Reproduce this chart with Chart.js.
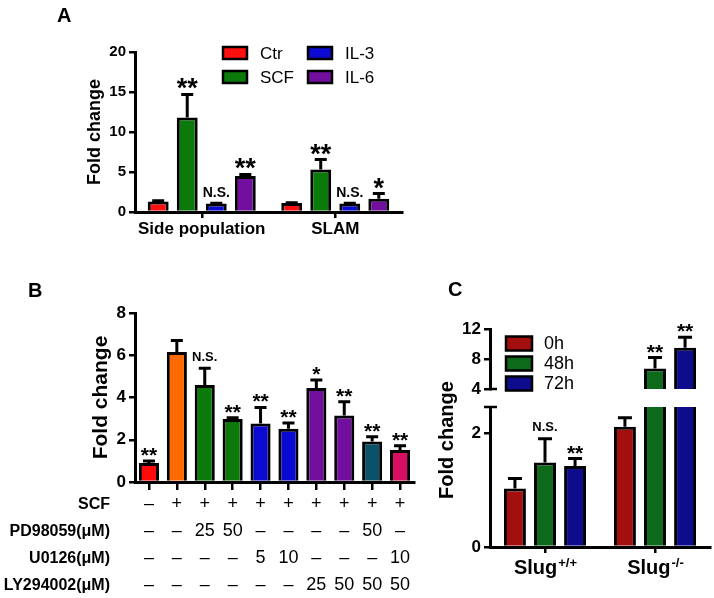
<!DOCTYPE html>
<html>
<head>
<meta charset="utf-8">
<script src="https://cdn.jsdelivr.net/npm/chart.js@4.4.0/dist/chart.umd.min.js"></script>
<style>
  html, body { margin: 0; padding: 0; background: #fff; }
  #page { position: relative; width: 714px; height: 598px; overflow: hidden; }
  #page canvas { position: absolute; left: 0; top: 0; }
</style>
</head>
<body>
<div id="page">
  <canvas id="chartA" width="714" height="598"></canvas>
  <canvas id="chartB" width="714" height="598"></canvas>
  <canvas id="chartC1" width="714" height="598"></canvas>
  <canvas id="chartC2" width="714" height="598"></canvas>
</div>
<script>
var FONT = "'Liberation Sans', Arial, Helvetica, sans-serif";

//! panel A - side population / SLAM
var groupsA = ['Side population', 'SLAM'];
var ctrA = [1.3, 1.13];
var ctrErrA = [0.1, 0.04];
var scfA = [11.8, 5.3];
var scfErrA = [2.9, 1.25];
var il3A = [1.05, 1.05];
var il3ErrA = [0.05, 0.03];
var il6A = [4.5, 1.66];
var il6ErrA = [0.2, 0.64];
var ctrSigA = ['', ''];
var scfSigA = ['**', '**'];
var il3SigA = ['N.S.', 'N.S.'];
var il6SigA = ['**', '*'];

//! panel B - inhibitors
var rowNamesB = ['SCF', 'PD98059(\u03bcM)', 'U0126(\u03bcM)', 'LY294002(\u03bcM)'];
var scfRowB = ['\u2013', '+', '+', '+', '+', '+', '+', '+', '+', '+'];
var pdRowB = ['\u2013', '\u2013', '25', '50', '\u2013', '\u2013', '\u2013', '\u2013', '50', '\u2013'];
var u0RowB = ['\u2013', '\u2013', '\u2013', '\u2013', '5', '10', '\u2013', '\u2013', '\u2013', '10'];
var lyRowB = ['\u2013', '\u2013', '\u2013', '\u2013', '\u2013', '\u2013', '25', '50', '50', '50'];
var foldB = [0.9, 6.15, 4.59, 2.98, 2.77, 2.52, 4.45, 3.15, 1.92, 1.52];
var errB = [0.1, 0.55, 0.8, 0.06, 0.76, 0.27, 0.38, 0.65, 0.22, 0.2];
var sigB = ['**', '', 'N.S.', '**', '**', '**', '*', '**', '**', '**'];
var colorsB = ['#ff0a0a', '#ff6a00', '#0b7a0b', '#0b7a0b', '#0a0ad2', '#0a0ad2',
               '#720f9e', '#720f9e', '#0b5268', '#d80e62'];

//! panel C - Slug genotypes
var genotypeC = ['Slug', 'Slug'];
var genotypeSupC = ['+/+', '-/-'];
var h0C = [1.03, 2.12];
var h0ErrC = [0.18, 0.16];
var h48C = [1.49, 6.75];
var h48ErrC = [0.42, 1.45];
var h72C = [1.43, 9.5];
var h72ErrC = [0.13, 1.4];
var h0SigC = ['', ''];
var h48SigC = ['N.S.', '**'];
var h72SigC = ['**', '**'];

Chart.defaults.font.family = FONT;
Chart.defaults.color = '#000';

function xAxis(size, tickLen, height, lineHeight, pad) {
    return {
        offset: true,
        grid: { display: true, drawOnChartArea: false, drawTicks: true, tickLength: tickLen, offset: false, color: '#000', lineWidth: 2.5 },
        border: { display: true, color: '#000', width: 3 },
        ticks: { color: '#000', font: { size: size, weight: 'bold', lineHeight: lineHeight }, padding: pad, maxRotation: 0, minRotation: 0, autoSkip: false },
        afterFit: function (s) { s.height = height; }
    };
}

function yAxis(min, max, step, size, width, title, titleSize) {
    return {
        min: min,
        max: max,
        grid: { display: true, drawOnChartArea: false, drawTicks: true, tickLength: 6, color: '#000', lineWidth: 2.5 },
        border: { display: true, color: '#000', width: 3 },
        ticks: { stepSize: step, includeBounds: false, color: '#000', font: { size: size, weight: 'bold' }, padding: 3 },
        title: { display: !!title, text: title, color: '#000', font: { size: titleSize, weight: 'bold' } },
        afterFit: function (s) { s.width = width; }
    };
}

//! error bars + significance marks
var errorBars = {
    id: 'errorBars',
    afterDatasetsDraw: function (chart, args, opts) {
        var ctx = chart.ctx;
        var area = chart.chartArea;
        var ys = chart.scales.y;
        ctx.save();
        ctx.beginPath();
        ctx.rect(area.left, area.top - 2, area.right - area.left, area.bottom - area.top + 2);
        ctx.clip();
        ctx.strokeStyle = '#000';
        ctx.lineWidth = opts.lineWidth;
        chart.data.datasets.forEach(function (ds, di) {
            chart.getDatasetMeta(di).data.forEach(function (bar, i) {
                var top = ys.getPixelForValue(ds.data[i] + ds.errors[i]);
                ctx.beginPath();
                ctx.moveTo(bar.x, bar.y);
                ctx.lineTo(bar.x, top);
                ctx.moveTo(bar.x - opts.cap, top);
                ctx.lineTo(bar.x + opts.cap, top);
                ctx.stroke();
            });
        });
        ctx.restore();

        ctx.save();
        ctx.fillStyle = '#000';
        ctx.textAlign = 'center';
        ctx.textBaseline = 'alphabetic';
        chart.data.datasets.forEach(function (ds, di) {
            chart.getDatasetMeta(di).data.forEach(function (bar, i) {
                var s = ds.sig[i];
                var v = ds.data[i] + ds.errors[i];
                if (!s || v < ys.min || v > ys.max) return;
                var star = s.indexOf('*') >= 0;
                ctx.font = 'bold ' + (star ? opts.starSize : opts.nsSize) + 'px ' + FONT;
                var m = ctx.measureText(s);
                var top = ys.getPixelForValue(v);
                ctx.fillText(s, bar.x, top - (star ? opts.starGap : opts.nsGap) - m.actualBoundingBoxDescent);
            });
        });
        ctx.restore();
    }
};

//! legend with outlined boxes
var boxLegend = {
    id: 'boxLegend',
    afterDraw: function (chart, args, opts) {
        if (!opts.items) return;
        var ctx = chart.ctx;
        ctx.save();
        ctx.font = opts.size + 'px ' + FONT;
        ctx.textBaseline = 'middle';
        ctx.textAlign = 'left';
        opts.items.forEach(function (it) {
            var ds = chart.data.datasets[it.index];
            var y0 = it.y - opts.boxH / 2;
            ctx.fillStyle = ds.backgroundColor;
            ctx.fillRect(it.x, y0, opts.boxW, opts.boxH);
            ctx.lineWidth = 2.5;
            ctx.strokeStyle = '#000';
            ctx.strokeRect(it.x, y0, opts.boxW, opts.boxH);
            ctx.fillStyle = '#000';
            ctx.fillText(ds.label, it.x + opts.boxW + opts.gap, it.y + 1);
        });
        ctx.restore();
    }
};

//! panel letters
var panelLetter = {
    id: 'panelLetter',
    afterDraw: function (chart, args, opts) {
        if (!opts.text) return;
        var ctx = chart.ctx;
        ctx.save();
        ctx.font = 'bold 20px ' + FONT;
        ctx.fillStyle = '#000';
        ctx.textBaseline = 'alphabetic';
        ctx.fillText(opts.text, opts.x, opts.y);
        ctx.restore();
    }
};

//!A
var chartA = new Chart(document.getElementById('chartA'), {
    type: 'bar',
    data: {
        labels: groupsA,
        datasets: [
            { label: 'Ctr', data: ctrA, errors: ctrErrA, sig: ctrSigA, backgroundColor: '#ff1010' },
            { label: 'SCF', data: scfA, errors: scfErrA, sig: scfSigA, backgroundColor: '#0b7a0b' },
            { label: 'IL-3', data: il3A, errors: il3ErrA, sig: il3SigA, backgroundColor: '#0a0ad2' },
            { label: 'IL-6', data: il6A, errors: il6ErrA, sig: il6SigA, backgroundColor: '#720f9e' }
        ]
    },
    options: {
        responsive: false,
        animation: false,
        datasets: { bar: { borderColor: '#000', borderWidth: 3, categoryPercentage: 0.87, barPercentage: 0.72, clip: 0 } },
        layout: { padding: { left: 80, top: 52, right: 312, bottom: 346 } },
        scales: {
            x: xAxis(17, 6, 40, 1, 3),
            y: yAxis(0, 20, 5, 15, 55, 'Fold change', 18)
        },
        plugins: {
            legend: { display: false },
            tooltip: { enabled: false },
            errorBars: { cap: 6, lineWidth: 3, starSize: 27, nsSize: 14, starGap: 5, nsGap: 6 },
            boxLegend: {
                size: 17, boxW: 24, boxH: 12, gap: 13,
                items: [{ index: 0, x: 223, y: 53 }, { index: 1, x: 223, y: 77 },
                        { index: 2, x: 308, y: 53 }, { index: 3, x: 308, y: 77 }]
            },
            panelLetter: { text: 'A', x: 57, y: 22 }
        }
    },
    plugins: [errorBars, boxLegend, panelLetter]
});

//!B
var labelsB = scfRowB.map(function (s, i) {
    return [s, pdRowB[i], u0RowB[i], lyRowB[i]];
});

var rowLabelsB = {
    id: 'rowLabelsB',
    afterDraw: function (chart) {
        var ctx = chart.ctx;
        var xs = chart.scales.x;
        var lh = 27;
        var y0 = xs.top + 9 + lh / 2;
        ctx.save();
        ctx.font = 'bold 16px ' + FONT;
        ctx.fillStyle = '#000';
        ctx.textAlign = 'right';
        ctx.textBaseline = 'middle';
        rowNamesB.forEach(function (name, k) {
            ctx.fillText(name, 110, y0 + k * lh);
        });
        ctx.restore();
    }
};

var chartB = new Chart(document.getElementById('chartB'), {
    type: 'bar',
    data: {
        labels: labelsB,
        datasets: [
            { label: 'Fold change', data: foldB, errors: errB, sig: sigB, backgroundColor: colorsB }
        ]
    },
    options: {
        responsive: false,
        animation: false,
        datasets: { bar: { borderColor: '#000', borderWidth: 3, categoryPercentage: 1, barPercentage: 0.72, clip: 0 } },
        layout: { padding: { left: 85, top: 313, right: 300, bottom: 0 } },
        scales: {
            x: (function () {
                var a = xAxis(18, 8, 116, 1.5, 1);
                a.ticks.font.weight = 'normal';
                return a;
            })(),
            y: yAxis(0, 8, 2, 17, 50, 'Fold change', 21)
        },
        plugins: {
            legend: { display: false },
            tooltip: { enabled: false },
            errorBars: { cap: 6, lineWidth: 3, starSize: 21, nsSize: 13, starGap: 5, nsGap: 7 },
            panelLetter: { text: 'B', x: 28, y: 297 }
        }
    },
    plugins: [errorBars, rowLabelsB, panelLetter]
});

//!C
function datasetsC() {
    return [
        { label: '0h', data: h0C, errors: h0ErrC, sig: h0SigC, backgroundColor: '#a30f0f' },
        { label: '48h', data: h48C, errors: h48ErrC, sig: h48SigC, backgroundColor: '#0d6a1a' },
        { label: '72h', data: h72C, errors: h72ErrC, sig: h72SigC, backgroundColor: '#0c0c8c' }
    ];
}

var breakUpper = {
    id: 'breakUpper',
    afterDraw: function (chart) {
        var ctx = chart.ctx;
        var a = chart.chartArea;
        ctx.save();
        ctx.strokeStyle = '#000';
        ctx.lineWidth = 2.5;
        ctx.beginPath();
        ctx.moveTo(a.left, a.bottom);
        ctx.lineTo(a.left + 7, a.bottom);
        ctx.stroke();
        ctx.restore();
    }
};

var extrasLowerC = {
    id: 'extrasLowerC',
    afterDraw: function (chart) {
        var ctx = chart.ctx;
        var a = chart.chartArea;
        var xs = chart.scales.x;
        ctx.save();
        //! break mark
        ctx.strokeStyle = '#000';
        ctx.lineWidth = 2.5;
        ctx.beginPath();
        ctx.moveTo(a.left - 6, a.top);
        ctx.lineTo(a.left + 7, a.top);
        ctx.stroke();
        //! genotype labels with superscript
        ctx.fillStyle = '#000';
        ctx.textBaseline = 'alphabetic';
        ctx.textAlign = 'left';
        genotypeC.forEach(function (g, i) {
            ctx.font = 'bold 20px ' + FONT;
            var w1 = ctx.measureText(g).width;
            ctx.font = 'bold 13px ' + FONT;
            var w2 = ctx.measureText(genotypeSupC[i]).width;
            var x0 = xs.getPixelForTick(i) - (w1 + w2) / 2;
            ctx.font = 'bold 20px ' + FONT;
            ctx.fillText(g, x0, 574);
            ctx.font = 'bold 13px ' + FONT;
            ctx.fillText(genotypeSupC[i], x0 + w1 + 1, 567);
        });
        //! shared y title
        ctx.translate(447, 440);
        ctx.rotate(-Math.PI / 2);
        ctx.font = 'bold 20px ' + FONT;
        ctx.textAlign = 'center';
        ctx.textBaseline = 'middle';
        ctx.fillText('Fold change', 0, 0);
        ctx.restore();
    }
};

var chartC1 = new Chart(document.getElementById('chartC1'), {
    type: 'bar',
    data: { labels: genotypeC, datasets: datasetsC() },
    options: {
        responsive: false,
        animation: false,
        datasets: { bar: { borderColor: '#000', borderWidth: 3, categoryPercentage: 0.82, barPercentage: 0.73, clip: 0 } },
        layout: { padding: { left: 450, top: 329, right: 4, bottom: 209 } },
        scales: {
            x: { display: false, offset: true },
            y: yAxis(4, 12, 4, 17, 40, '', 20)
        },
        plugins: {
            legend: { display: false },
            tooltip: { enabled: false },
            errorBars: { cap: 7, lineWidth: 3, starSize: 21, nsSize: 13, starGap: 5, nsGap: 8 },
            boxLegend: {
                size: 18, boxW: 26, boxH: 14, gap: 12,
                items: [{ index: 0, x: 506, y: 343.5 }, { index: 1, x: 506, y: 363.5 }, { index: 2, x: 506, y: 383.5 }]
            },
            panelLetter: { text: 'C', x: 448, y: 296 }
        }
    },
    plugins: [errorBars, boxLegend, breakUpper, panelLetter]
});

var chartC2 = new Chart(document.getElementById('chartC2'), {
    type: 'bar',
    data: { labels: genotypeC, datasets: datasetsC() },
    options: {
        responsive: false,
        animation: false,
        datasets: { bar: { borderColor: '#000', borderWidth: 3, categoryPercentage: 0.82, barPercentage: 0.73, clip: 0 } },
        layout: { padding: { left: 450, top: 407, right: 4, bottom: 11 } },
        scales: {
            x: (function () {
                var a = xAxis(20, 6, 40, 1, 0);
                a.ticks.callback = function () { return ''; };
                return a;
            })(),
            y: yAxis(0, 2.47, 2, 17, 40, '', 20)
        },
        plugins: {
            legend: { display: false },
            tooltip: { enabled: false },
            errorBars: { cap: 7, lineWidth: 3, starSize: 21, nsSize: 13, starGap: 5, nsGap: 8 }
        }
    },
    plugins: [errorBars, extrasLowerC]
});
</script>
</body>
</html>
